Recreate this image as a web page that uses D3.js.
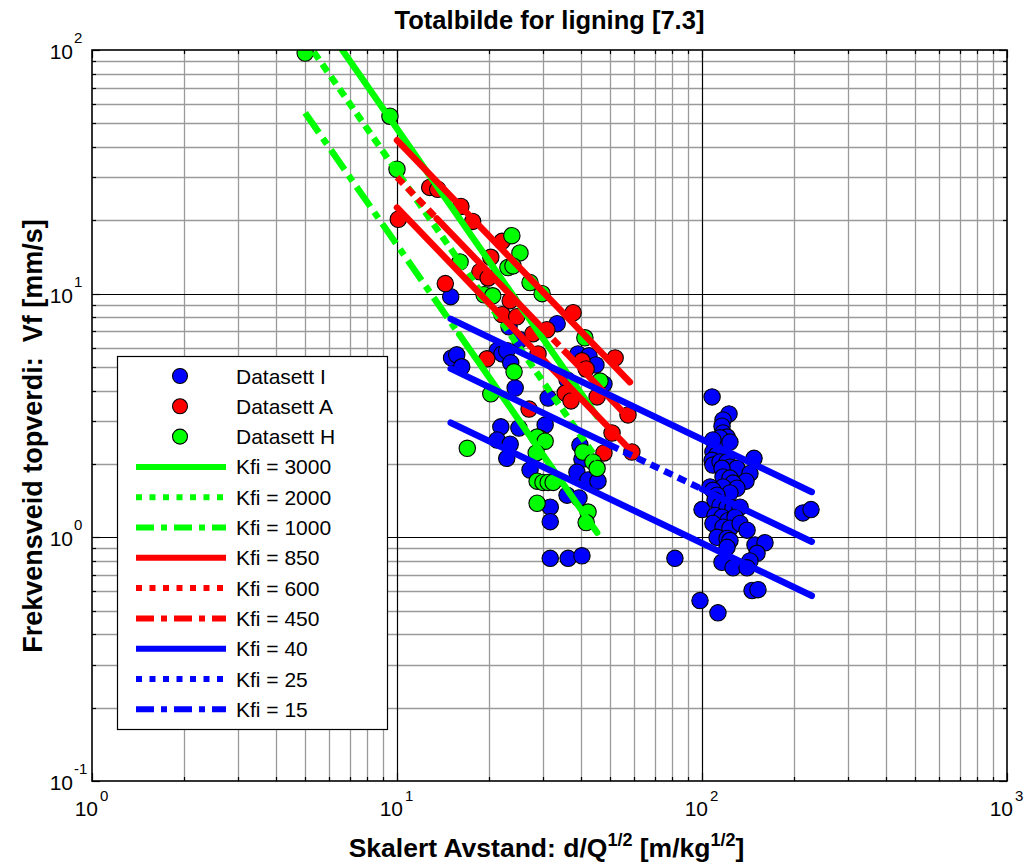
<!DOCTYPE html>
<html>
<head>
<meta charset="utf-8">
<script src="https://cdn.jsdelivr.net/npm/d3@7"></script>
<style>
  body { margin: 0; background: #fff; }
  svg { display: block; font-family: "Liberation Sans", Arial, sans-serif; }
  .pre { white-space: pre; }
</style>
</head>
<body>
<svg id="chart" width="1027" height="864"></svg>
<script>
// ---- Measured data: scaled distance d/Q^(1/2) and frequency-weighted peak value Vf ----
const datasetNames = ["Datasett I", "Datasett A", "Datasett H"];

const setI_x = [15.0, 33.5, 23.3, 15.1, 15.7, 16.3, 21.3, 22.1, 22.9, 23.6, 24.4, 25.3, 31.3, 39.2, 42.6, 44.9,
  36.1, 47.7, 21.9, 25.1, 30.6, 21.3, 23.5, 22.9, 27.3, 39.8, 40.4, 38.9, 42.3, 45.6, 36.1, 39.5, 31.8, 31.8,
  31.8, 36.4, 40.4, 81.5,
  107.9, 122.6, 117.2, 116.3, 117.2, 120.8, 114.6, 123.5, 108.6, 148.1, 108.6, 112.0, 107.9, 108.6, 114.6,
  120.8, 123.5, 130.2, 116.3, 143.6, 139.4, 117.2, 123.5, 126.4, 117.2, 130.2, 123.5, 106.3, 108.6, 112.0,
  100.0, 110.3, 114.6, 120.8, 126.4, 133.3, 110.3, 116.3, 121.7, 128.3, 108.6, 117.2, 123.5, 133.3, 140.5,
  112.0, 120.8, 123.5, 120.8, 149.2, 160.9, 151.5, 143.6, 116.3, 126.4, 140.5, 145.9, 152.6, 98.5, 112.8,
  214.3, 227.7];
const setI_y = [9.72, 7.53, 7.31, 5.45, 5.61, 5.01, 5.83, 5.66, 5.83, 5.20, 4.10, 6.47, 3.73, 5.66, 5.56, 5.10,
  4.43, 4.26, 2.84, 2.81, 2.89, 2.51, 2.41, 2.11, 1.89, 2.39, 2.09, 1.85, 1.72, 1.70, 1.49, 1.45, 1.33, 1.16,
  0.82, 0.82, 0.84, 0.82,
  3.77, 3.21, 3.03, 2.86, 2.68, 2.58, 2.56, 2.46, 2.51, 2.11, 2.24, 2.18, 2.07, 1.98, 2.04,
  2.04, 1.94, 1.92, 1.92, 1.83, 1.70, 1.77, 1.75, 1.67, 1.61, 1.59, 1.52, 1.61, 1.56, 1.49,
  1.30, 1.42, 1.35, 1.33, 1.32, 1.33, 1.23, 1.21, 1.17, 1.21, 1.14, 1.10, 1.09, 1.14, 1.07,
  1.00, 0.99, 0.97, 0.91, 0.93, 0.95, 0.86, 0.80, 0.79, 0.75, 0.75, 0.605, 0.61, 0.55, 0.49,
  1.26, 1.30];

const setA_x = [10.1, 12.8, 13.6, 16.2, 17.7, 22.1, 20.3, 18.7, 19.9, 14.4, 23.5, 22.1, 24.7, 37.8, 27.9,
  31.0, 19.7, 29.0, 40.4, 41.7, 51.9, 35.6, 37.2, 45.3, 27.1, 29.4, 57.2, 50.7, 47.7, 58.9];
const setA_y = [20.2, 27.3, 26.8, 22.8, 19.8, 16.4, 14.1, 12.3, 11.6, 11.0, 9.36, 8.2, 8.04, 8.35, 6.85,
  7.11, 5.40, 5.66, 5.30, 4.91, 5.45, 3.91, 3.63, 3.77, 3.36, 2.55, 3.18, 2.68, 2.22, 2.24];

const setH_x = [5.0, 9.48, 10.0, 16.1, 23.8, 25.3, 23.1, 24.0, 27.3, 29.9, 19.3, 20.6, 41.3, 24.2, 20.3,
  17.0, 28.8, 30.6, 28.6, 28.8, 30.1, 31.3, 32.5, 28.8, 40.7, 43.9, 45.3, 42.3, 41.7, 46.3];
const setH_y = [97.2, 53.5, 32.4, 13.5, 17.3, 14.7, 12.8, 13.0, 11.1, 10.0, 9.9, 9.8, 6.59, 4.78, 3.88,
  2.32, 2.58, 2.48, 2.22, 1.70, 1.68, 1.68, 1.68, 1.38, 2.24, 2.04, 1.92, 1.27, 1.15, 4.38];

// ---- Attenuation lines Vf = Kfi * (d/Q^(1/2))^(-b), one exponent and range per data set ----
const kfiValues = [3000, 2000, 1000, 850, 600, 450, 40, 25, 15];
const kfiDataset = [2, 2, 2, 1, 1, 1, 0, 0, 0];      // index into datasetNames
const datasetExponent = [0.6, 1.3, 1.8];
const datasetRangeStart = [15, 10, 5];
const datasetRangeEnd = [229, 58, 45.3];

// ---- Axis ticks (powers of ten) ----
const xTickExponents = [0, 1, 2, 3];
const yTickExponents = [-1, 0, 1, 2];

// ---- Styling ----
const colors = ["#0000ff", "#ff0000", "#00ff00"];
const dashPatterns = { solid: null, dot: "9,6", dashdot: "24,7,7,7" };
const legendDash = { solid: null, dot: "6,7.5", dashdot: "18,7,6,7" };
const lineKinds = ["solid", "dot", "dashdot", "solid", "dot", "dashdot", "solid", "dot", "dashdot"];
// where a dashed line is drawn with its pattern (x limits); the rest of it renders continuous
const patternSpans = [[], [[0, 1e9]], [[0, 16]], [], [[0, 13.5], [30, 36]], [], [], [[50, 100]], []];

const W = 1027, H = 864;
const plot = { left: 92, right: 1007, top: 50, bottom: 781 };

const svg = d3.select("#chart");
const x = d3.scaleLog().domain([1, 1000]).range([plot.left, plot.right]);
const y = d3.scaleLog().domain([0.1, 100]).range([plot.bottom, plot.top]);

svg.append("rect").attr("width", W).attr("height", H).attr("fill", "#fff");

// ---- Grid ----
const xMinor = [], xMajor = [], yMinor = [], yMajor = [];
for (let e = 0; e < 3; e++) for (let k = 2; k <= 9; k++) xMinor.push(k * Math.pow(10, e));
for (let e = -1; e < 2; e++) for (let k = 2; k <= 9; k++) yMinor.push(k * Math.pow(10, e));
xTickExponents.forEach(e => xMajor.push(Math.pow(10, e)));
yTickExponents.forEach(e => yMajor.push(Math.pow(10, e)));

const grid = svg.append("g");
grid.selectAll(".gxm").data(xMinor).join("line")
  .attr("x1", d => Math.round(x(d)) + 0.5).attr("x2", d => Math.round(x(d)) + 0.5)
  .attr("y1", plot.top).attr("y2", plot.bottom)
  .attr("stroke", "#9a9a9a").attr("stroke-width", 1.3);
grid.selectAll(".gym").data(yMinor).join("line")
  .attr("y1", d => Math.round(y(d)) + 0.5).attr("y2", d => Math.round(y(d)) + 0.5)
  .attr("x1", plot.left).attr("x2", plot.right)
  .attr("stroke", "#9a9a9a").attr("stroke-width", 1.3);
grid.selectAll(".gxM").data(xMajor.slice(1, -1)).join("line")
  .attr("x1", d => Math.round(x(d)) + 0.5).attr("x2", d => Math.round(x(d)) + 0.5)
  .attr("y1", plot.top).attr("y2", plot.bottom)
  .attr("stroke", "#000").attr("stroke-width", 1.2);
grid.selectAll(".gyM").data(yMajor.slice(1, -1)).join("line")
  .attr("y1", d => Math.round(y(d)) + 0.5).attr("y2", d => Math.round(y(d)) + 0.5)
  .attr("x1", plot.left).attr("x2", plot.right)
  .attr("stroke", "#000").attr("stroke-width", 1.2);

// ---- Inner tick marks on all four sides ----
const ticks = svg.append("g").attr("stroke", "#000").attr("stroke-width", 1.2);
const tickLen = v => (xMajor.includes(v) || yMajor.includes(v)) ? 8 : 4;
xMinor.concat(xMajor).forEach(v => {
  const px = Math.round(x(v)) + 0.5;
  ticks.append("line").attr("x1", px).attr("x2", px).attr("y1", plot.bottom).attr("y2", plot.bottom - tickLen(v));
  ticks.append("line").attr("x1", px).attr("x2", px).attr("y1", plot.top).attr("y2", plot.top + tickLen(v));
});
yMinor.concat(yMajor).forEach(v => {
  const py = Math.round(y(v)) + 0.5;
  ticks.append("line").attr("y1", py).attr("y2", py).attr("x1", plot.left).attr("x2", plot.left + tickLen(v));
  ticks.append("line").attr("y1", py).attr("y2", py).attr("x1", plot.right).attr("x2", plot.right - tickLen(v));
});

// ---- Clip region for data ----
svg.append("clipPath").attr("id", "plotClip").append("rect")
  .attr("x", plot.left).attr("y", plot.top)
  .attr("width", plot.right - plot.left).attr("height", plot.bottom - plot.top);
const dataLayer = svg.append("g").attr("clip-path", "url(#plotClip)");

// ---- Markers: one series per data set ----
const seriesX = [setI_x, setA_x, setH_x];
const seriesY = [setI_y, setA_y, setH_y];
seriesX.forEach((xs, s) => {
  const pts = xs.map((v, i) => [v, seriesY[s][i]]);
  dataLayer.append("g").selectAll("circle").data(pts).join("circle")
    .attr("cx", d => x(d[0])).attr("cy", d => y(d[1])).attr("r", 8.2)
    .attr("fill", colors[s]).attr("stroke", "#000").attr("stroke-width", 1.1);
});

// ---- Kfi lines ----
const lineGen = d3.line().x(d => x(d[0])).y(d => y(d[1]));
kfiValues.forEach((K, i) => {
  const s = kfiDataset[i];
  const b = datasetExponent[s];
  const x0 = datasetRangeStart[s], x1 = datasetRangeEnd[s];
  const f = v => K * Math.pow(v, -b);
  // break the line into continuous and patterned pieces
  const cuts = [x0, x1];
  patternSpans[i].forEach(([a, c]) => { if (a > x0 && a < x1) cuts.push(a); if (c > x0 && c < x1) cuts.push(c); });
  cuts.sort((p, q) => p - q);
  for (let j = 0; j < cuts.length - 1; j++) {
    const a = cuts[j], c = cuts[j + 1];
    const mid = Math.sqrt(a * c);
    const patterned = patternSpans[i].some(([p, q]) => mid > p && mid < q);
    dataLayer.append("path")
      .attr("d", lineGen([[a, f(a)], [c, f(c)]]))
      .attr("fill", "none").attr("stroke", colors[s]).attr("stroke-width", 6.5)
      .attr("stroke-linecap", patterned ? "butt" : "round")
      .attr("stroke-dasharray", patterned ? dashPatterns[lineKinds[i]] : null);
  }
});

// ---- Axes box ----
svg.append("rect").attr("x", plot.left).attr("y", plot.top)
  .attr("width", plot.right - plot.left).attr("height", plot.bottom - plot.top)
  .attr("fill", "none").attr("stroke", "#000").attr("stroke-width", 1.6);

// ---- Tick labels (10^n) ----
const labels = svg.append("g").attr("fill", "#000");
xTickExponents.forEach(e => {
  const px = x(Math.pow(10, e));
  labels.append("text").attr("x", px + 6).attr("y", 816).attr("text-anchor", "end")
    .attr("font-size", 21).text("10");
  labels.append("text").attr("x", px + 8).attr("y", 801).attr("font-size", 15).text(e);
});
yTickExponents.forEach(e => {
  const py = y(Math.pow(10, e));
  labels.append("text").attr("x", 73).attr("y", py + 9).attr("text-anchor", "end")
    .attr("font-size", 21).text("10");
  labels.append("text").attr("x", 74).attr("y", py - 7).attr("font-size", 15).text(e);
});

// ---- Title and axis titles ----
svg.append("text").attr("x", (plot.left + plot.right) / 2).attr("y", 29)
  .attr("text-anchor", "middle").attr("font-weight", "bold").attr("font-size", 25.5)
  .text("Totalbilde for ligning [7.3]");

const xt = svg.append("text").attr("x", (plot.left + plot.right) / 2 - 3).attr("y", 857)
  .attr("text-anchor", "middle").attr("font-weight", "bold").attr("font-size", 26.5);
xt.append("tspan").text("Skalert Avstand: d/Q");
xt.append("tspan").attr("font-size", 18).attr("dy", -11).text("1/2");
xt.append("tspan").attr("dy", 11).text(" [m/kg");
xt.append("tspan").attr("font-size", 18).attr("dy", -11).text("1/2");
xt.append("tspan").attr("dy", 11).text("]");

svg.append("text").attr("class", "pre")
  .attr("transform", `translate(42,436) rotate(-90)`)
  .attr("text-anchor", "middle").attr("font-weight", "bold").attr("font-size", 27)
  .text("Frekvensveid topverdi:  Vf [mm/s]");

// ---- Legend ----
const leg = svg.append("g");
const legBox = { x: 117.5, y: 356.5, w: 270, h: 373 };
leg.append("rect").attr("x", legBox.x).attr("y", legBox.y).attr("width", legBox.w).attr("height", legBox.h)
  .attr("fill", "#fff").attr("stroke", "#000").attr("stroke-width", 1.2);
const rowY = i => 376 + i * 30.3;
datasetNames.forEach((name, i) => {
  leg.append("circle").attr("cx", 180).attr("cy", rowY(i)).attr("r", 7.5)
    .attr("fill", colors[i]).attr("stroke", "#000").attr("stroke-width", 1.1);
  leg.append("text").attr("x", 236).attr("y", rowY(i) + 7.5).attr("font-size", 21).text(name);
});
kfiValues.forEach((K, i) => {
  const r = i + datasetNames.length;
  const kind = lineKinds[i];
  leg.append("line").attr("x1", 136).attr("x2", 226).attr("y1", rowY(r)).attr("y2", rowY(r))
    .attr("stroke", colors[kfiDataset[i]]).attr("stroke-width", 6)
    .attr("stroke-dasharray", legendDash[kind]);
  leg.append("text").attr("x", 236).attr("y", rowY(r) + 7.5).attr("font-size", 21).text("Kfi = " + K);
});
</script>
</body>
</html>
